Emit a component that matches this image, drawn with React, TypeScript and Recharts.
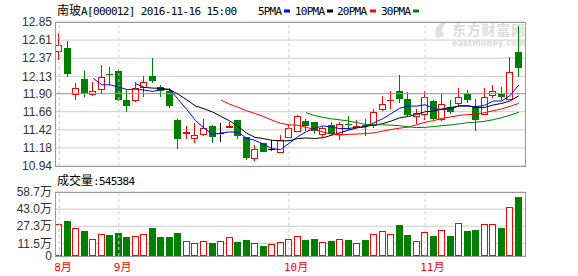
import { ComposedChart, Bar, Line, XAxis, YAxis, CartesianGrid, ReferenceLine } from 'recharts';

// trading days shown, 2016
const dates = [
  '08-23', '08-24', '08-25', '08-26', '08-29', '08-30', '08-31',
  '09-01', '09-02', '09-05', '09-06', '09-07', '09-08', '09-09', '09-12', '09-13', '09-14',
  '09-19', '09-20', '09-21', '09-22', '09-23', '09-26', '09-27', '09-28', '09-29', '09-30',
  '10-10', '10-11', '10-12', '10-13', '10-14', '10-17', '10-18', '10-19', '10-20', '10-21',
  '10-24', '10-25', '10-26', '10-27', '10-28', '10-31',
  '11-01', '11-02', '11-03', '11-04', '11-07', '11-08', '11-09', '11-10', '11-11', '11-14', '11-15', '11-16',
];

const opens = [
  12.47, 12.51, 11.9, 12.09, 11.9, 11.96, 12.16, 12.2, 11.82, 11.81, 11.99, 12.13, 11.99, 11.94,
  11.55, 11.38, 11.31, 11.36, 11.47, 11.38, 11.46, 11.55, 11.32, 11.05, 11.24, 11.17, 11.13, 11.33,
  11.41, 11.54, 11.52, 11.36, 11.49, 11.37, 11.5, 11.46, 11.48, 11.49, 11.69, 11.81, 11.94, 11.83,
  11.6, 11.63, 11.8, 11.56, 11.72, 11.77, 11.9, 11.74, 11.63, 11.88, 11.89, 11.83, 12.45,
];
const highs = [
  12.7, 12.6, 12.04, 12.2, 12.06, 12.28, 12.25, 12.23, 11.95, 12.05, 12.13, 12.37, 12.01, 11.97,
  11.56, 11.47, 11.51, 11.56, 11.49, 11.51, 11.52, 11.55, 11.33, 11.22, 11.25, 11.29, 11.35, 11.49,
  11.61, 11.56, 11.52, 11.46, 11.52, 11.52, 11.6, 11.55, 11.56, 11.7, 11.87, 11.94, 12.15, 11.92,
  11.69, 11.94, 11.81, 11.91, 11.81, 11.98, 11.95, 11.83, 11.97, 12.01, 11.99, 12.38, 12.8,
];
const lows = [
  12.34, 12.12, 11.82, 11.86, 11.87, 11.9, 12.02, 11.8, 11.66, 11.79, 11.85, 12.04, 11.85, 11.71,
  11.16, 11.3, 11.24, 11.34, 11.25, 11.26, 11.44, 11.3, 11.02, 11.0, 11.12, 11.14, 11.11, 11.32,
  11.4, 11.4, 11.37, 11.33, 11.35, 11.28, 11.42, 11.44, 11.34, 11.45, 11.67, 11.69, 11.78, 11.6,
  11.5, 11.55, 11.55, 11.54, 11.63, 11.74, 11.77, 11.41, 11.61, 11.84, 11.82, 11.82, 12.12,
];
const closes = [
  12.54, 12.16, 11.97, 11.9, 11.94, 12.12, 12.15, 11.82, 11.74, 11.97, 12.05, 12.07, 11.94, 11.74,
  11.3, 11.39, 11.35, 11.44, 11.32, 11.38, 11.47, 11.34, 11.04, 11.17, 11.13, 11.17, 11.28, 11.45,
  11.6, 11.47, 11.4, 11.44, 11.37, 11.5, 11.48, 11.47, 11.47, 11.65, 11.76, 11.82, 11.83, 11.62,
  11.64, 11.85, 11.57, 11.76, 11.66, 11.85, 11.82, 11.55, 11.85, 11.94, 11.85, 12.19, 12.24,
];
// volume in 万股
const volumes = [
  28.9, 31.9, 26.1, 22.8, 15.2, 19.8, 19.1, 21.0, 17.3, 17.9, 19.8, 25.5, 17.3, 17.3,
  21.0, 13.4, 11.9, 13.4, 11.9, 13.4, 17.0, 12.8, 14.6, 11.6, 9.1, 10.6, 12.8, 15.2,
  17.9, 14.6, 15.5, 12.8, 13.7, 15.2, 14.6, 11.6, 14.6, 19.8, 22.5, 19.8, 28.6, 19.1,
  13.4, 21.6, 18.2, 23.4, 18.2, 30.7, 22.8, 23.7, 29.8, 29.8, 25.5, 45.3, 54.5,
];

const priceTicks = [10.94, 11.18, 11.42, 11.66, 11.9, 12.13, 12.37, 12.61, 12.85];
const volumeTicks = [0, 11.5, 27.3, 43.0, 58.7];
const monthStarts = ['08-23', '09-01', '10-10', '11-01'];
const monthLabels = ['8月', '9月', '10月', '11月'];
const maPeriods = [5, 10, 20, 30];

const UP = '#ff0000';
const DOWN = '#008000';
const FLAT = '#000000';
const MA_COLORS = ['#0000ff', '#000000', '#ff0000', '#008000'];
const GRID = '#cccccc';
const FRAME = '#999999';

const rows = dates.map((date, i) => {
  const row: Record<string, any> = {
    date,
    open: opens[i],
    high: highs[i],
    low: lows[i],
    close: closes[i],
    range: [lows[i], highs[i]],
    volume: volumes[i],
  };
  maPeriods.forEach((n) => {
    if (i < n - 1) {
      row['ma' + n] = null;
    } else {
      const win = closes.slice(i - n + 1, i + 1);
      row['ma' + n] = win.reduce((s, v) => s + v, 0) / n;
    }
  });
  return row;
});

function candleColor(open: number, close: number) {
  if (close > open) return UP;
  if (close < open) return DOWN;
  return FLAT;
}

function CandleShape(props: any) {
  const { x, y, width, height, payload } = props;
  if (!payload) return null;
  const { open, close, high, low } = payload;
  const top = Math.min(y, y + height);
  const span = Math.abs(height);
  const toY = (v: number) => top + ((high - v) / (high - low)) * span;
  const cx = Math.floor(x + width / 2 - 0.5) + 0.5;
  const yHigh = Math.round(toY(high));
  const yLow = Math.round(toY(low));
  const bTop = Math.round(toY(Math.max(open, close)));
  const bBot = Math.round(toY(Math.min(open, close)));
  const color = candleColor(open, close);

  if (color === DOWN) {
    return (
      <g>
        <line x1={cx} x2={cx} y1={yHigh} y2={yLow} stroke={color} />
        <rect x={cx - 3.5} y={bTop} width={7} height={Math.max(bBot - bTop, 1)} fill={color} />
      </g>
    );
  }
  if (color === FLAT || bBot - bTop < 1) {
    return (
      <g>
        <line x1={cx} x2={cx} y1={yHigh} y2={yLow} stroke={color} />
        <line x1={cx - 3.5} x2={cx + 3.5} y1={bTop + 0.5} y2={bTop + 0.5} stroke={color} />
      </g>
    );
  }
  return (
    <g>
      <line x1={cx} x2={cx} y1={yHigh} y2={bTop} stroke={color} />
      <line x1={cx} x2={cx} y1={bBot} y2={yLow} stroke={color} />
      <rect x={cx - 3} y={bTop + 0.5} width={6} height={bBot - bTop} fill="#ffffff" stroke={color} />
    </g>
  );
}

function VolumeShape(props: any) {
  const { x, y, width, height, payload } = props;
  if (!payload) return null;
  const cx = Math.floor(x + width / 2 - 0.5) + 0.5;
  const bottom = Math.round(y + height);
  const top = Math.round(y);
  if (payload.close < payload.open) {
    return <rect x={cx - 3.5} y={top} width={7} height={bottom - top} fill={DOWN} />;
  }
  return (
    <rect x={cx - 3} y={top + 0.5} width={6} height={bottom - top - 1} fill="#ffffff" stroke={UP} />
  );
}

function MonthTick(props: any) {
  const { x, y, payload } = props;
  const label = monthLabels[monthStarts.indexOf(payload.value)];
  return (
    <text x={x - 5} y={y + 15} fill={UP} fontSize={11} fontFamily='"DejaVu Sans Mono", "Noto Sans CJK SC"'>
      {label}
    </text>
  );
}

const tickStyle = { fill: '#333', fontSize: 12, fontFamily: '"Liberation Sans", "Noto Sans CJK SC", sans-serif' };
const mono = '"DejaVu Sans Mono", monospace';
const cjk = '"Noto Sans CJK SC", sans-serif';

const legend = [
  { label: '5PMA', x: 258, box: 284 },
  { label: '10PMA', x: 295, box: 327 },
  { label: '20PMA', x: 337, box: 370 },
  { label: '30PMA', x: 381, box: 413 },
];

export default function App() {
  return (
    <div style={{ position: 'absolute', left: 0, top: 0, width: 578, height: 276, background: '#fff', overflow: 'hidden' }}>
      {/* watermark */}
      <svg width={578} height={276} style={{ position: 'absolute', left: 0, top: 0 }}>
        <path d="M437 38 C432 30 438 22 447 22 C442 26 441 31 444 36 Z" fill="#e0e0e0" />
        <text x={452} y={34.5} fontSize={14} fontWeight="bold" fill="#dcdcdc" fontFamily={cjk} textLength={73}>
          东方财富网
        </text>
        <text x={452} y={46} fontSize={8} fontWeight="bold" fill="#dcdcdc" fontFamily='"DejaVu Sans", sans-serif' textLength={73}>
          eastmoney.com
        </text>
      </svg>

      <div style={{ position: 'absolute', left: 0, top: 0 }}>
        <ComposedChart width={578} height={174} data={rows} margin={{ top: 22, right: 53, bottom: 8, left: 0 }}>
          <CartesianGrid vertical={false} stroke={GRID} />
          <XAxis dataKey="date" hide padding={{ left: 0, right: 2 }} />
          <YAxis
            domain={[10.94, 12.85]}
            ticks={priceTicks}
            interval={0}
            width={55}
            tickSize={0}
            tickMargin={3}
            axisLine={false}
            tickLine={false}
            tick={tickStyle}
            tickFormatter={(v: number) => v.toFixed(2)}
          />
          {monthStarts.map((d) => (
            <ReferenceLine key={d} x={d} stroke={GRID} strokeDasharray="3 3" />
          ))}
          <ReferenceLine y={11.9} stroke={FRAME} />
          <Bar dataKey="range" shape={CandleShape} isAnimationActive={false} />
          {maPeriods.map((n, k) => (
            <Line
              key={n}
              type="linear"
              dataKey={'ma' + n}
              stroke={MA_COLORS[k]}
              strokeWidth={1}
              dot={false}
              isAnimationActive={false}
            />
          ))}
        </ComposedChart>
      </div>

      <div style={{ position: 'absolute', left: 0, top: 176 }}>
        <ComposedChart width={578} height={100} data={rows} margin={{ top: 16, right: 53, bottom: 0, left: 0 }}>
          <CartesianGrid vertical={false} stroke={GRID} />
          <XAxis
            dataKey="date"
            ticks={monthStarts}
            interval={0}
            height={20}
            padding={{ left: 0, right: 2 }}
            axisLine={false}
            tickLine={false}
            tickSize={0}
            tickMargin={0}
            tick={MonthTick}
          />
          <YAxis
            domain={[0, 58.7]}
            ticks={volumeTicks}
            interval={0}
            width={55}
            tickSize={0}
            tickMargin={3}
            axisLine={false}
            tickLine={false}
            tick={tickStyle}
            tickFormatter={(v: number) => (v === 0 ? '0' : v.toFixed(1) + '万')}
          />
          {monthStarts.map((d) => (
            <ReferenceLine key={d} x={d} stroke={GRID} strokeDasharray="3 3" />
          ))}
          <Bar dataKey="volume" shape={VolumeShape} isAnimationActive={false} />
        </ComposedChart>
      </div>

      {/* plot frames */}
      <div style={{ position: 'absolute', left: 55, top: 22, width: 469, height: 143, border: `1px solid ${FRAME}` }} />
      <div style={{ position: 'absolute', left: 55, top: 192, width: 469, height: 63, border: `1px solid ${FRAME}` }} />

      <svg width={578} height={276} style={{ position: 'absolute', left: 0, top: 0, pointerEvents: 'none' }}>
        <text x={57} y={15} fontSize={12} fontFamily={cjk} fill="#000">南玻</text>
        <text x={81} y={15} fontSize={11} fontFamily={mono} fill="#000" textLength={156} lengthAdjust="spacing">
          A[000012] 2016-11-16 15:00
        </text>
        {legend.map((item, k) => (
          <g key={item.label}>
            <text x={item.x} y={15} fontSize={11} fontFamily={mono} fill="#000" textLength={item.label.length * 6} lengthAdjust="spacing">
              {item.label}
            </text>
            <rect x={item.box} y={9.5} width={6} height={3} fill={MA_COLORS[k]} />
          </g>
        ))}
        <text x={57} y={185} fontSize={12} fontFamily={cjk} fill="#000">成交量</text>
        <text x={93} y={185} fontSize={11} fontFamily={mono} fill="#000" textLength={42} lengthAdjust="spacing">
          :545384
        </text>
      </svg>
    </div>
  );
}
